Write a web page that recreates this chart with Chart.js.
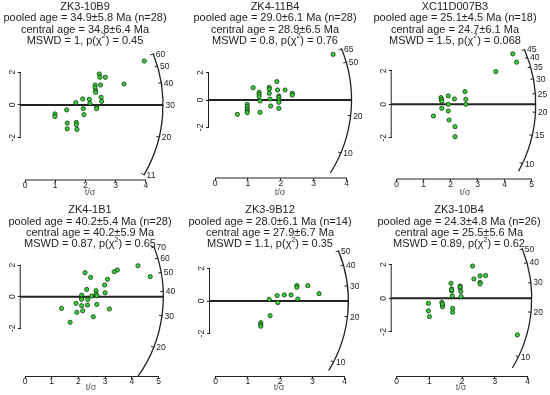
<!DOCTYPE html>
<html>
<head>
<meta charset="utf-8">
<script src="https://cdn.jsdelivr.net/npm/chart.js@4.4.1/dist/chart.umd.min.js"></script>
<style>
  html, body { margin: 0; padding: 0; background: #fff; overflow: hidden; }
  #page { position: relative; width: 550px; height: 395px; }
  .panel { position: absolute; }
  .panel canvas { position: absolute; left: 0; top: 0; }
  .ttl {
    position: absolute; transform: translateX(-50%);
    font: 11px "Liberation Sans", Arial, sans-serif; color: #222;
    line-height: 11.3px; text-align: center; white-space: nowrap; z-index: 2;
  }
  .ttl sup { font-size: 7px; line-height: 0; position: relative; top: -1px; }
</style>
</head>
<body>
<div id="page"></div>
<script>
// ---- panel headers ----
const sampleNames  = ['ZK3-10B9', 'ZK4-11B4', 'XC11D007B3', 'ZK4-1B1', 'ZK3-9B12', 'ZK3-10B4'];
const pooledAges   = ['34.9±5.8 Ma (n=28)', '29.0±6.1 Ma (n=28)', '25.1±4.5 Ma (n=18)',
                      '40.2±5.4 Ma (n=28)', '28.0±6.1 Ma (n=14)', '24.3±4.8 Ma (n=26)'];
const centralAges  = ['34.8±6.4 Ma', '28.9±6.5 Ma', '24.7±6.1 Ma', '40.2±5.9 Ma', '27.9±6.7 Ma', '25.5±5.6 Ma'];
const mswdValues   = ['1', '0.8', '1.5', '0.87', '1.1', '0.89'];
const pChi2Values  = ['0.45', '0.76', '0.068', '0.65', '0.35', '0.62'];

// ---- grains: x = t/sigma (precision), y = standardised estimate ----
const zk3_10b9_x = [3.95, 3.28, 2.46, 2.48, 2.66, 2.32, 2.32, 2.50, 2.34, 2.34, 2.52, 2.54, 1.91, 2.13, 2.15, 1.68, 2.37, 2.37, 1.93, 1.38, 1.95, 0.99, 0.99, 1.40, 1.70, 1.70, 1.40, 1.72];
const zk3_10b9_y = [2.68, 1.28, 1.89, 1.69, 1.69, 1.22, 1.06, 1.22, 0.87, 0.77, 0.47, 0.22, 0.37, 0.35, 0.10, 0.14, -0.14, -0.22, -0.22, -0.30, -0.59, -0.54, -0.70, -1.10, -1.06, -1.20, -1.45, -1.49];

const zk4_11b4_x = [3.59, 1.16, 1.34, 1.34, 1.34, 1.37, 1.65, 1.65, 1.65, 1.67, 1.69, 1.88, 1.90, 1.94, 1.94, 1.94, 1.94, 1.94, 2.13, 2.35, 2.35, 0.98, 0.98, 0.98, 0.98, 0.98, 0.68, 1.37];
const zk4_11b4_y = [3.33, 0.90, 0.56, 0.41, 0.24, -0.07, 0.92, 0.80, 0.49, 0.07, -0.44, 1.34, 0.73, 0.29, 0.19, 0.00, -0.17, -0.61, 0.73, 0.49, 0.36, -0.32, -0.49, -0.66, -0.80, -0.92, -1.05, -0.90];

const xc11d007b3_x = [4.30, 4.44, 3.67, 2.53, 2.56, 2.56, 1.91, 2.14, 1.64, 1.66, 1.67, 1.67, 1.91, 1.91, 1.36, 1.94, 2.16, 2.16];
const xc11d007b3_y = [3.02, 2.52, 1.96, 0.76, 0.30, 0.00, 0.50, 0.32, 0.40, 0.28, 0.18, -0.24, 0.00, -0.40, -0.70, -0.94, -1.34, -1.94];

const zk4_1b1_x = [4.23, 4.69, 3.46, 3.34, 3.09, 2.98, 3.00, 3.16, 2.25, 2.46, 2.31, 2.66, 2.66, 2.69, 2.50, 2.12, 2.12, 2.12, 2.35, 2.69, 2.34, 1.91, 2.12, 2.16, 1.94, 2.56, 1.37, 1.69];
const zk4_1b1_y = [1.96, 1.27, 1.69, 1.58, 1.10, 0.74, 0.25, -0.78, 1.52, 1.22, 0.46, 0.38, 0.17, 0.06, 0.04, 0.10, -0.10, -0.17, -0.17, -0.49, -0.53, -0.42, -0.57, -0.89, -0.99, -1.27, -0.74, -1.62];

const zk3_9b12_x = [2.86, 2.52, 2.52, 3.21, 2.13, 2.34, 1.91, 1.93, 1.66, 2.55, 1.69, 1.40, 1.40, 1.40];
const zk3_9b12_y = [0.94, 0.94, 0.84, 0.45, 0.37, 0.37, 0.33, -0.10, 0.10, 0.12, -0.90, -1.33, -1.47, -1.55];

const zk3_10b4_x = [2.32, 2.36, 2.55, 2.72, 2.55, 2.55, 1.66, 1.68, 1.68, 1.70, 1.94, 1.94, 1.96, 1.97, 0.97, 0.97, 1.00, 1.38, 1.40, 1.40, 1.71, 1.71, 3.69, 1.40, 1.68, 1.94];
const zk3_10b4_y = [1.92, 1.15, 1.33, 1.35, 0.95, 0.85, 0.89, 0.56, 0.44, 0.14, 0.73, 0.60, 0.40, 0.10, -0.30, -0.75, -1.09, -0.24, -0.40, -0.50, -0.60, -0.83, -2.18, -0.34, 0.50, 0.67];

const grainsX = [zk3_10b9_x, zk4_11b4_x, xc11d007b3_x, zk4_1b1_x, zk3_9b12_x, zk3_10b4_x];
const grainsY = [zk3_10b9_y, zk4_11b4_y, xc11d007b3_y, zk4_1b1_y, zk3_9b12_y, zk3_10b4_y];

// ---- axes ----
const xTickMax   = [4, 4, 5, 5, 4, 4];
const yTicks     = [-2, 0, 2];

// ---- age arc (Ma) ----
const arcTicks   = [[11, 20, 30, 40, 50, 60], [10, 20, 50, 65], [10, 15, 20, 25, 30, 35, 40, 45],
                    [20, 30, 40, 50, 60, 70], [10, 20, 30, 40, 50], [10, 20, 30, 40, 50]];
const arcMinAge  = [11, 6.2, 8.8, 12, 8.5, 8];
const arcMaxAge  = [60, 65, 45, 70, 50, 50];
const arcRadius  = [4.57, 4.15, 5.15, 5.18, 4.12, 4.13];   // in t/sigma units
const refAge     = [30.2, 26, 22, 37.6, 24.6, 24.2];       // age on the zero line
const slopeScale = [1.07, 1.06, 0.97, 1.05, 1.14, 1.06];

// page geometry of each panel (px)
const panelLayout = [
  { col: 0,   row: 0,   w: 185, h: 198, yAxis: 20.7,  x0: 25,    ppuX: 30.2, y0: 105,   ppuY: 16.4, axisY: 179.5, tsig: 90,  tx: 85,  ty: 6.7, tpad: 0 },
  { col: 185, row: 0,   w: 180, h: 198, yAxis: 209,   x0: 215,   ppuX: 32.9, y0: 100,   ppuY: 13.7, axisY: 177.5, tsig: 280, tx: 275, ty: 6.7, tpad: 0 },
  { col: 365, row: 0,   w: 185, h: 198, yAxis: 391.7, x0: 396.7, ppuX: 27,   y0: 104.3, ppuY: 16.7, axisY: 178.5, tsig: 465, tx: 455, ty: 6.7, tpad: 0 },
  { col: 0,   row: 198, w: 185, h: 197, yAxis: 20.7,  x0: 25,    ppuX: 26.7, y0: 296.7, ppuY: 15.8, axisY: 376,   tsig: 91,  tx: 90,  ty: 210, tpad: 1.6 },
  { col: 185, row: 198, w: 180, h: 197, yAxis: 210,   x0: 215.7, ppuX: 32.2, y0: 301,   ppuY: 16.3, axisY: 376,   tsig: 279, tx: 270, ty: 210, tpad: 1.6 },
  { col: 365, row: 198, w: 185, h: 197, yAxis: 391.7, x0: 396.7, ppuX: 32.7, y0: 298.3, ppuY: 16.8, axisY: 376,   tsig: 461, tx: 459, ty: 210, tpad: 1.6 },
];

Chart.defaults.font.family = '"Liberation Sans", Arial, sans-serif';
Chart.defaults.color = '#222';

const INK = '#222';

// draws axis segments, the zero line and the age arc from the panel's scales
const radialPlugin = {
  id: 'radial',
  beforeDatasetsDraw(chart, args, opts) {
    const { ctx, chartArea } = chart;
    const xs = chart.scales.x, ys = chart.scales.y;
    const i  = opts.panel;
    const ox = xs.getPixelForValue(0), oy = ys.getPixelForValue(0);
    const sx = xs.getPixelForValue(1) - ox;
    const sy = oy - ys.getPixelForValue(1);
    const R  = xs.getPixelForValue(arcRadius[i]) - ox;
    const angle = t => Math.atan(slopeScale[i] * Math.log(t / refAge[i]) * sy / sx);

    ctx.save();
    ctx.strokeStyle = INK;

    // x axis segment
    ctx.lineWidth = 1;
    ctx.beginPath();
    ctx.moveTo(xs.getPixelForValue(0), chartArea.bottom + 0.5);
    ctx.lineTo(xs.getPixelForValue(xTickMax[i]), chartArea.bottom + 0.5);
    ctx.stroke();
    // y axis segment
    ctx.beginPath();
    ctx.moveTo(chartArea.left - 0.5, ys.getPixelForValue(yTicks[yTicks.length - 1]));
    ctx.lineTo(chartArea.left - 0.5, ys.getPixelForValue(yTicks[0]));
    ctx.stroke();

    // zero line
    ctx.lineWidth = 2;
    ctx.beginPath();
    ctx.moveTo(chartArea.left - 0.5, oy);
    ctx.lineTo(ox + R, oy);
    ctx.stroke();

    // arc
    ctx.lineWidth = 1.3;
    ctx.beginPath();
    ctx.arc(ox, oy, R, -angle(arcMaxAge[i]), -angle(arcMinAge[i]), false);
    ctx.stroke();

    // arc ticks + labels
    ctx.lineWidth = 1;
    ctx.fillStyle = '#1a1a1a';
    ctx.font = '8.5px "Liberation Sans", Arial, sans-serif';
    ctx.textAlign = 'left';
    ctx.textBaseline = 'middle';
    arcTicks[i].forEach(t => {
      const a = angle(t);
      const c = Math.cos(a), s = Math.sin(a);
      ctx.beginPath();
      ctx.moveTo(ox + (R - 3) * c, oy - (R - 3) * s);
      ctx.lineTo(ox + (R + 0.5) * c, oy - (R + 0.5) * s);
      ctx.stroke();
      ctx.fillText(String(t), ox + R * c + 2.5, oy - R * s + 0.5);
    });
    ctx.restore();
  }
};

const page = document.getElementById('page');

panelLayout.forEach((L, i) => {
  const box = document.createElement('div');
  box.className = 'panel';
  box.style.left = L.col + 'px';
  box.style.top = L.row + 'px';
  box.style.width = L.w + 'px';
  box.style.height = L.h + 'px';
  page.appendChild(box);

  const cv = document.createElement('canvas');
  cv.width = L.w; cv.height = L.h;
  cv.style.width = L.w + 'px'; cv.style.height = L.h + 'px';
  box.appendChild(cv);

  const ttl = document.createElement('div');
  ttl.className = 'ttl';
  ttl.style.left = (L.tx - L.col) + 'px';
  ttl.style.top = (L.ty - L.row - 5.65) + 'px';
  ttl.innerHTML = `${sampleNames[i]}<br>pooled age = ${pooledAges[i]}<br>` +
    `central age = ${centralAges[i]}<br>MSWD = ${mswdValues[i]}, p(χ<sup>2</sup>) = ${pChi2Values[i]}`;
  box.appendChild(ttl);

  const areaL = L.yAxis - L.col;
  const areaR = 2 * (L.tsig - L.col) - areaL;   // keeps the t/σ title where it sits
  const areaT = 36;
  const areaB = L.axisY - L.row;
  const y0    = L.y0 - L.row;
  const xmin  = -(L.x0 - L.yAxis) / L.ppuX;
  const xmax  = xmin + (areaR - areaL) / L.ppuX;
  const ymax  = (y0 - areaT) / L.ppuY;
  const ymin  = -(areaB - y0) / L.ppuY;

  new Chart(cv, {
    type: 'scatter',
    data: {
      datasets: [{
        data: grainsX[i].map((x, j) => ({ x, y: grainsY[i][j] })),
        pointRadius: 2.1,
        pointBackgroundColor: '#33d633',
        pointBorderColor: '#143014',
        pointBorderWidth: 0.8,
        clip: false,
      }],
    },
    options: {
      responsive: false,
      animation: false,
      devicePixelRatio: 1,
      layout: { padding: { left: 0, right: L.w - areaR, top: areaT, bottom: 0 } },
      plugins: {
        legend: { display: false },
        tooltip: { enabled: false },
        radial: { panel: i },
      },
      scales: {
        x: {
          type: 'linear', min: xmin, max: xmax,
          afterFit: s => { s.height = L.h - areaB; },
          afterBuildTicks: s => {
            s.ticks = [];
            for (let v = 0; v <= xTickMax[i]; v++) s.ticks.push({ value: v });
          },
          border: { display: false },
          grid: { drawOnChartArea: false, tickLength: 3, color: INK },
          ticks: { autoSkip: false, maxRotation: 0, padding: -2, font: { size: 8.5 }, color: '#222' },
          title: { display: true, text: 't/σ', color: '#555', font: { size: 9 }, padding: { top: 0, bottom: L.tpad } },
        },
        y: {
          type: 'linear', min: ymin, max: ymax,
          afterFit: s => { s.width = areaL; },
          afterBuildTicks: s => { s.ticks = yTicks.map(v => ({ value: v })); },
          border: { display: false },
          grid: { drawOnChartArea: false, tickLength: 3, color: INK },
          ticks: { autoSkip: false, minRotation: 90, maxRotation: 90, crossAlign: 'center', padding: 1.5, font: { size: 8.5 }, color: '#222' },
        },
      },
    },
    plugins: [radialPlugin],
  });
});
</script>
</body>
</html>
